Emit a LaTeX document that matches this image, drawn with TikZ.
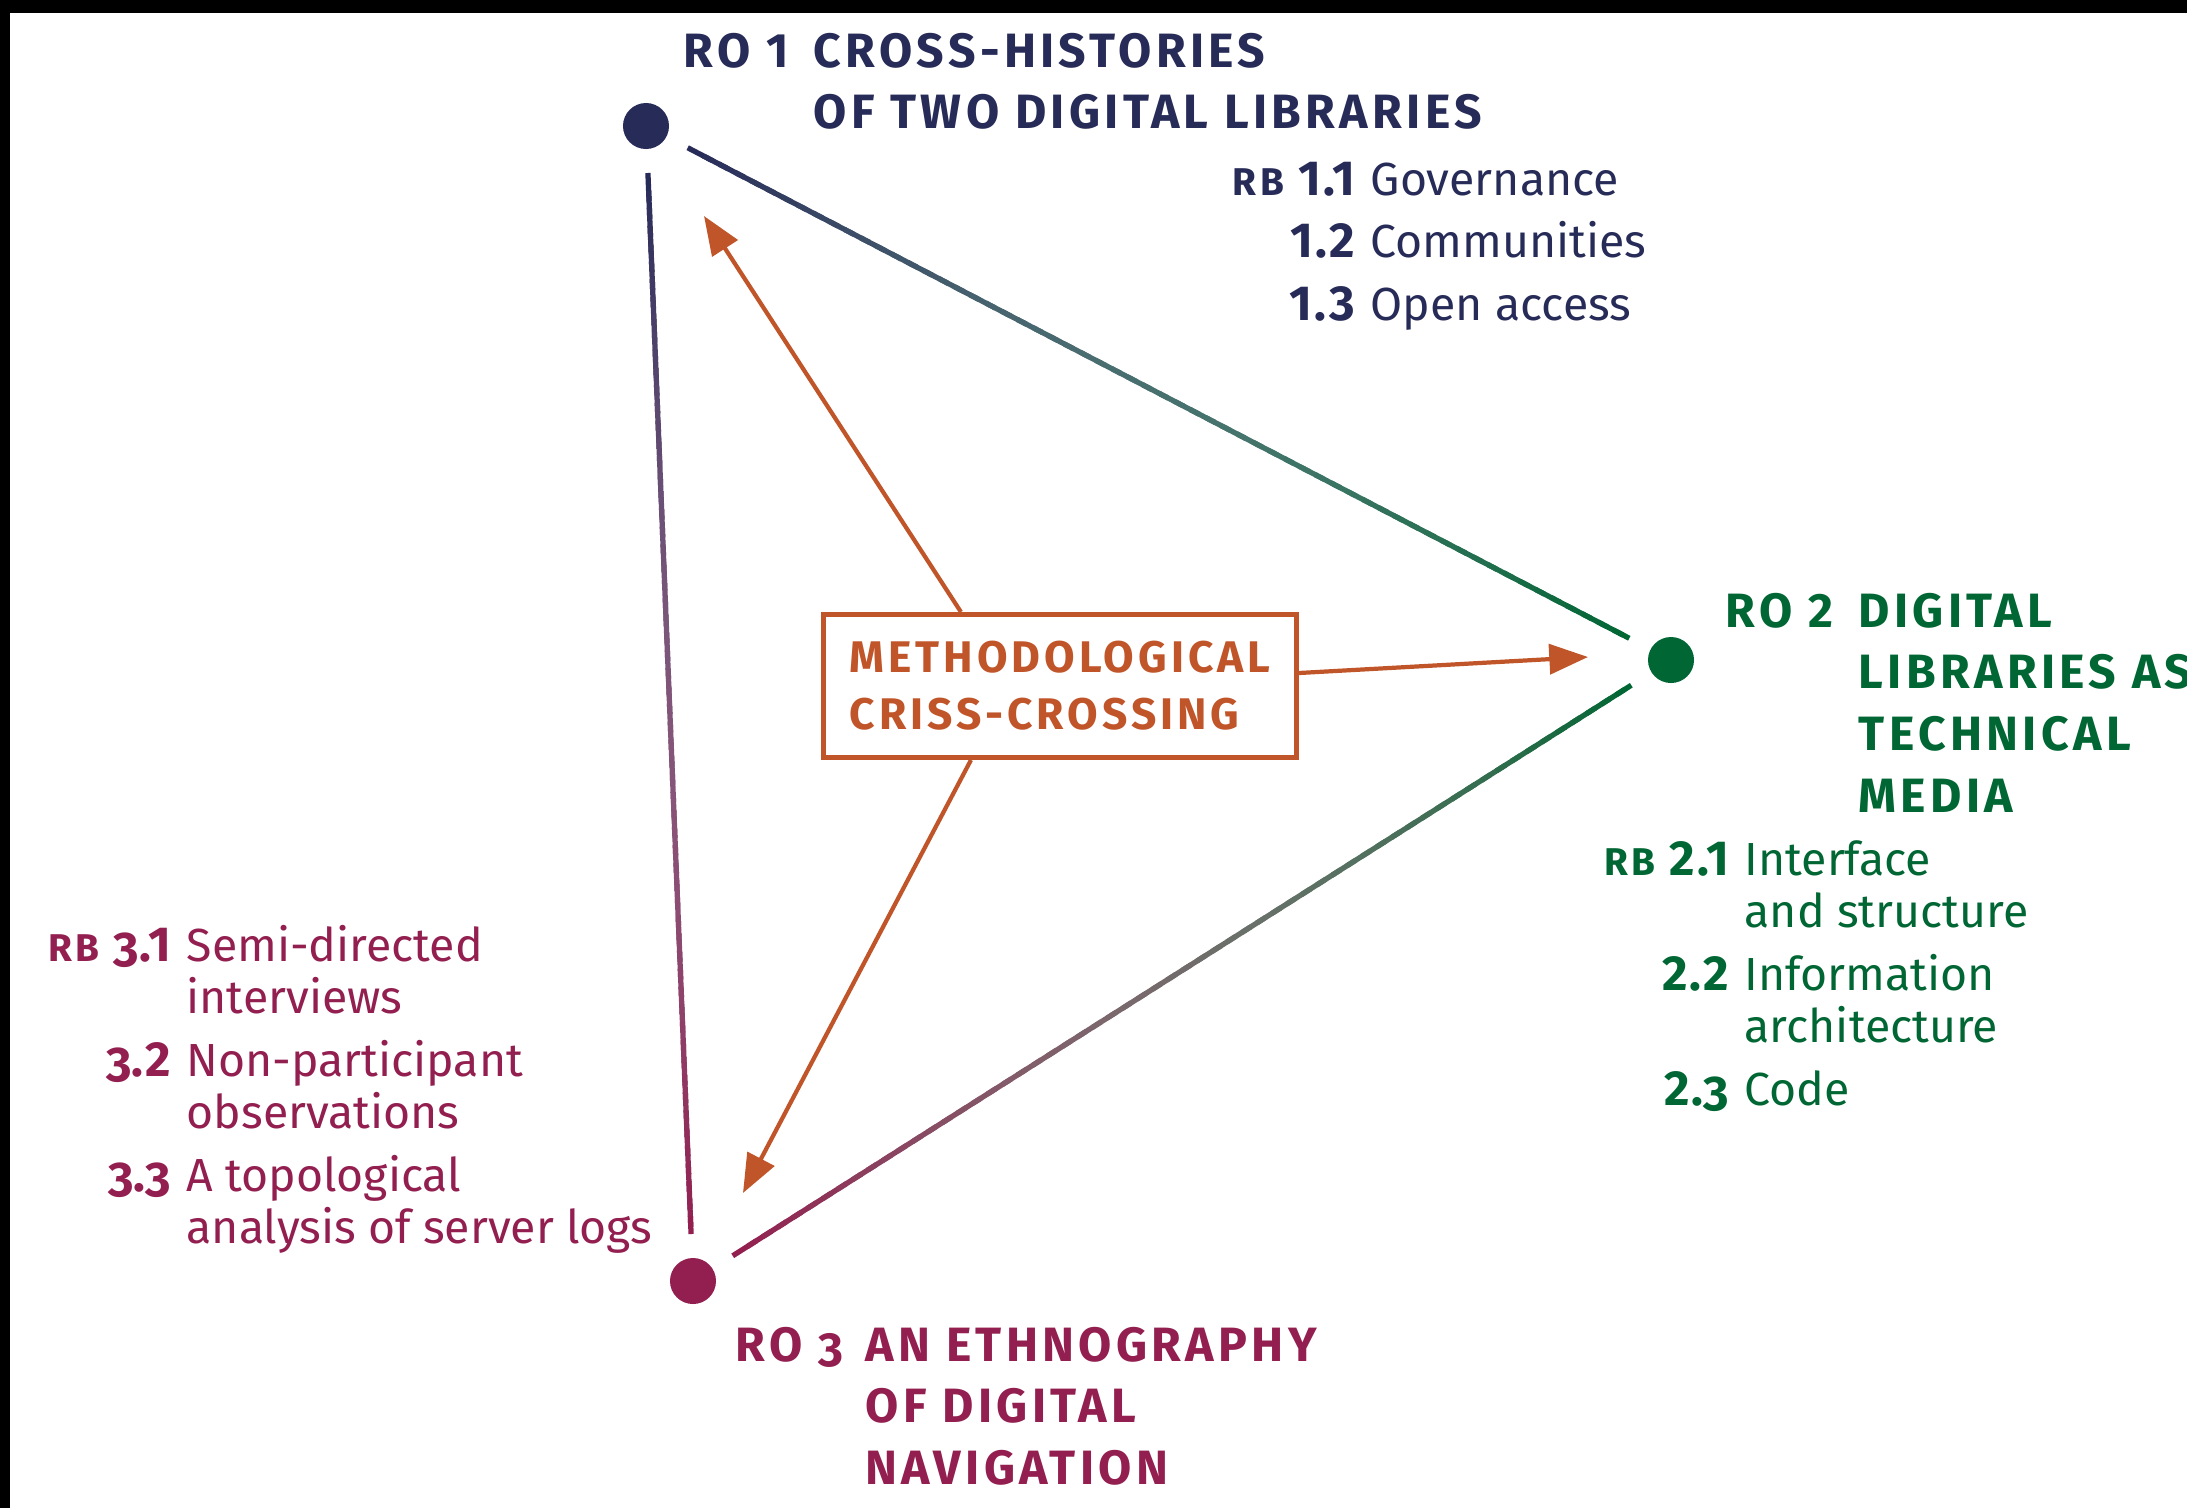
\documentclass[tikz,border=0pt]{standalone}
\usepackage{fontspec}
\setmainfont{Fira Sans}
\newfontfamily\headfont[LetterSpace=9]{Fira Sans}
\newfontfamily\numfont[LetterSpace=4]{Fira Sans}
\newfontfamily\tagfont[LetterSpace=10]{Fira Sans}
\usetikzlibrary{arrows.meta,calc}

\definecolor{navyc}{HTML}{272B58}
\definecolor{greenc}{HTML}{006633}
\definecolor{plumc}{HTML}{921F4F}
\definecolor{rustc}{HTML}{C1552A}

\newcommand{\osthree}{{\addfontfeature{Numbers=OldStyle}3}}
\newcommand{\rbtag}{{\tagfont\bfseries\fontsize{11}{11}\selectfont RB}\hspace{4pt}}
\newcommand{\rbnum}[1]{\llap{{\numfont\bfseries\fontsize{14}{14}\selectfont #1}\hspace{4.5pt}}}
% edge with a colour running from one dot to the other
\newcommand{\gradedge}[4]{%
  \coordinate (ga) at ($(#1)!0.47cm!(#2)$);
  \coordinate (gb) at ($(#2)!0.47cm!(#1)$);
  \foreach \i in {0,...,59}{
    \pgfmathtruncatemacro{\p}{100*\i/59}
    \pgfmathtruncatemacro{\w}{100-22*sin(180*\i/59)}
    \pgfmathsetmacro{\s}{\i/60}
    \pgfmathsetmacro{\q}{min(\i+1.6,60)/60}
    \colorlet{segc}{#4!\p!#3}
    \colorlet{segc}{segc!\w!white}
    \draw[segc, line width=1.5pt] ($(ga)!\s!(gb)$) -- ($(ga)!\q!(gb)$);
  }}

\begin{document}
\begin{tikzpicture}[x=0.01cm, y=-0.01cm,
  dot/.style={circle, inner sep=0pt, minimum size=0.46cm},
  head/.style={inner sep=0pt, anchor=base west, font=\headfont\bfseries\fontsize{13.7}{17.6}\selectfont},
  rbtext/.style={inner sep=0pt, anchor=base west, font=\fontsize{13.2}{14.8}\selectfont},
  arr/.style={rustc, line width=1.2pt, -{Triangle[length=11pt,width=8.5pt]}}]
\useasboundingbox (0,0) rectangle (2187,1508);
\fill[black] (0,0) rectangle (2187,1508);
\fill[white] (10,13) rectangle (2187,1508);
%\draw[step=1cm,gray,very thin] (0,0) grid (2187,1508);

\node[dot, fill=navyc] (d1) at (646,126) {};
\node[dot, fill=greenc] (d2) at (1671,660) {};
\node[dot, fill=plumc] (d3) at (693,1281) {};

\gradedge{d1}{d2}{navyc}{greenc}
\gradedge{d1}{d3}{navyc}{plumc}
\gradedge{d3}{d2}{plumc}{greenc}

\node[draw=rustc, line width=1.4pt, minimum width=4.73cm, minimum height=1.43cm,
  inner sep=0pt, align=left, text=rustc,
  font=\headfont\bfseries\fontsize{12.6}{16.2}\selectfont] (mc) at (1060,686)
  {METHODOLOGICAL\\CRISS-CROSSING};

\coordinate (t1) at (704,216);
\coordinate (t2) at (1588,657);
\coordinate (t3) at (743,1193);
\draw[arr] ([xshift=-0.99cm]mc.north) -- (t1);
\draw[arr] ([yshift=0.13cm]mc.east) -- (t2);
\draw[arr] ([xshift=-0.89cm]mc.south) -- (t3);

\node[head, navyc] (ro1) at (683,67) {RO 1};
\node[head, navyc] (ro1t) at (813,67) {\begin{tabular}[t]{@{}l@{}}CROSS-HISTORIES\\OF TWO DIGITAL LIBRARIES\end{tabular}};
\node[rbtext, navyc] (rb1) at (1370,195) {\begin{tabular}[t]{@{}l@{}}
  \rbnum{\rbtag 1.1}Governance\\[3.1pt]
  \rbnum{1.2}Communities\\[3.1pt]
  \rbnum{1.3}Open access\end{tabular}};

\node[head, greenc] (ro2) at (1725,627) {RO 2};
\node[head, greenc] (ro2t) at (1858,627) {\begin{tabular}[t]{@{}l@{}}DIGITAL\\LIBRARIES AS\\TECHNICAL\\MEDIA\end{tabular}};
\node[rbtext, greenc] (rb2) at (1744,875) {\begin{tabular}[t]{@{}l@{}}
  \rbnum{\rbtag 2.1}Interface\\and structure\\[3.1pt]
  \rbnum{2.2}Information\\architecture\\[3.1pt]
  \rbnum{2.\osthree}Code\end{tabular}};

\node[head, plumc] (ro3) at (735,1361) {RO \osthree};
\node[head, plumc] (ro3t) at (865,1361) {\begin{tabular}[t]{@{}l@{}}AN ETHNOGRAPHY\\OF DIGITAL\\NAVIGATION\end{tabular}};
\node[rbtext, plumc] (rb3) at (186,961) {\begin{tabular}[t]{@{}l@{}}
  \rbnum{\rbtag \osthree.1}Semi-directed\\interviews\\[3.1pt]
  \rbnum{\osthree.2}Non-participant\\observations\\[3.1pt]
  \rbnum{\osthree.\osthree}A topological\\analysis of server logs\end{tabular}};
\end{tikzpicture}
\end{document}
